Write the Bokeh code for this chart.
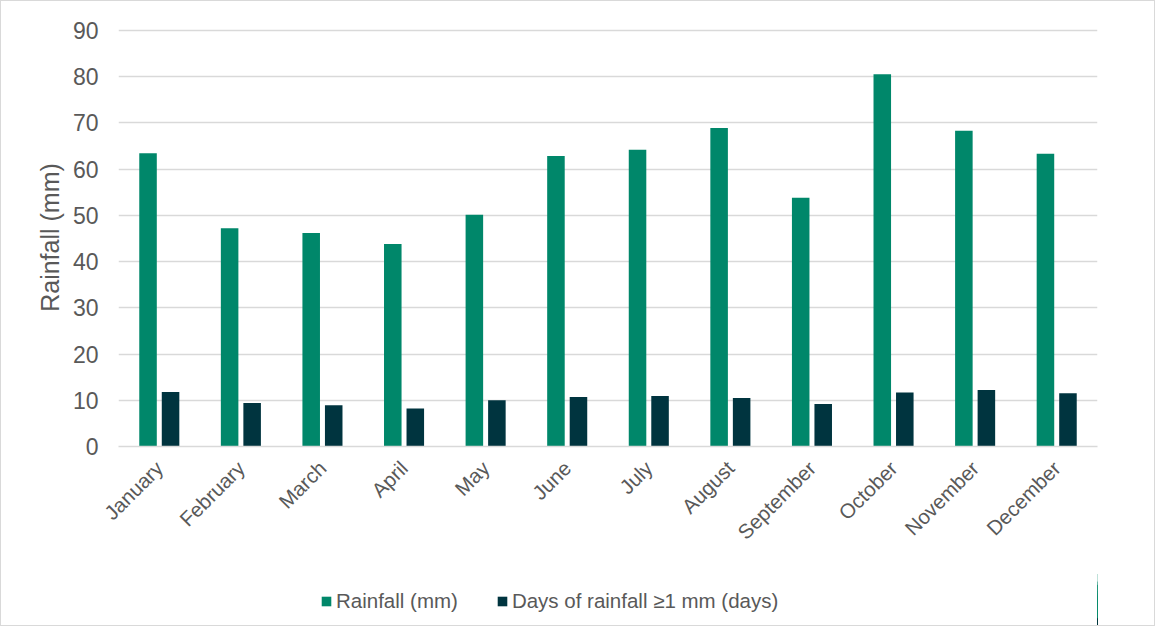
from bokeh.plotting import figure
from bokeh.models import ColumnDataSource, Legend, LegendItem, FactorRange, Range1d
from bokeh.layouts import column
from bokeh.transform import dodge
from bokeh.embed import file_html
from bokeh.resources import INLINE
import math

months = ["January", "February", "March", "April", "May", "June", "July",
          "August", "September", "October", "November", "December"]
rainfall_mm = [63.4, 47.2, 46.2, 43.8, 50.1, 62.8, 64.2, 68.9, 53.8, 80.5, 68.3, 63.3]
rain_days = [11.8, 9.4, 8.9, 8.2, 10.0, 10.7, 10.9, 10.5, 9.2, 11.7, 12.2, 11.5]
y_ticks = [0, 10, 20, 30, 40, 50, 60, 70, 80, 90]
series_labels = ["Rainfall (mm)", "Days of rainfall \u22651 mm (days)"]

GREEN = "#00876a"
DARK = "#00343f"
GRAY_TEXT = "#595959"
FONT = "Liberation Sans"

src = ColumnDataSource(dict(month=months, rain=rainfall_mm, days=rain_days))

p = figure(x_range=FactorRange(*months, range_padding=0), y_range=Range1d(0, 90.4),
           width=1153, height=560, output_backend="svg", toolbar_location=None,
           min_border_left=117, min_border_right=57, min_border_top=27, min_border_bottom=115)

r1 = p.vbar(x=dodge("month", -0.138, range=p.x_range), top="rain", width=0.215,
            source=src, color=GREEN, line_color=None)
r2 = p.vbar(x=dodge("month", 0.138, range=p.x_range), top="days", width=0.215,
            source=src, color=DARK, line_color=None)

p.outline_line_color = None
p.xgrid.grid_line_color = None
p.ygrid.grid_line_color = "#d9d9d9"
p.ygrid.grid_line_width = 1.5
p.yaxis.ticker = y_ticks
p.yaxis.axis_line_color = None
p.yaxis.major_tick_line_color = None
p.yaxis.minor_tick_line_color = None
p.yaxis.major_label_text_font = FONT
p.yaxis.major_label_text_font_size = "23px"
p.yaxis.major_label_text_color = GRAY_TEXT
p.yaxis.major_label_standoff = 14
p.yaxis.axis_label = "Rainfall (mm)"
p.yaxis.axis_label_text_font = FONT
p.yaxis.axis_label_text_font_size = "25px"
p.yaxis.axis_label_text_font_style = "normal"
p.yaxis.axis_label_text_color = GRAY_TEXT
p.yaxis.axis_label_standoff = 6

p.xaxis.axis_line_color = "#d9d9d9"
p.xaxis.axis_line_width = 1.5
p.xaxis.major_tick_line_color = None
p.xaxis.minor_tick_line_color = None
p.xaxis.major_label_orientation = math.pi / 4
p.xaxis.major_label_text_font = FONT
p.xaxis.major_label_text_font_size = "20.5px"
p.xaxis.major_label_text_color = GRAY_TEXT
p.xaxis.major_label_standoff = 12

# legend strip: proxy renderers shifted far outside the visible canvas
p2 = figure(x_range=FactorRange(*months, range_padding=0), y_range=Range1d(0, 100),
            width=1153, height=64, output_backend="svg", toolbar_location=None,
            x_axis_location=None, y_axis_location=None,
            min_border_left=0, min_border_right=0, min_border_top=0, min_border_bottom=0)
p2.grid.visible = False
p2.outline_line_color = None
l1 = p2.vbar(x=dodge("month", 30, range=p2.x_range), top="rain", width=0.2, source=src,
             color=GREEN, line_color=None)
l2 = p2.vbar(x=dodge("month", 30, range=p2.x_range), top="days", width=0.2, source=src,
             color=DARK, line_color=None)

legend = Legend(items=[LegendItem(label=series_labels[0], renderers=[l1]),
                       LegendItem(label=series_labels[1], renderers=[l2])],
                orientation="horizontal", location=(202, 12),
                label_text_font=FONT, label_text_font_size="20.5px",
                label_text_color=GRAY_TEXT, glyph_width=12, glyph_height=12,
                spacing=38, label_standoff=4, border_line_color=None,
                background_fill_alpha=0, margin=0, padding=6)
p2.add_layout(legend, "center")

layout = column(p, p2, spacing=0, styles={"border": "1px solid #d9d9d9"})

open("out.html", "w").write(file_html(layout, INLINE))
